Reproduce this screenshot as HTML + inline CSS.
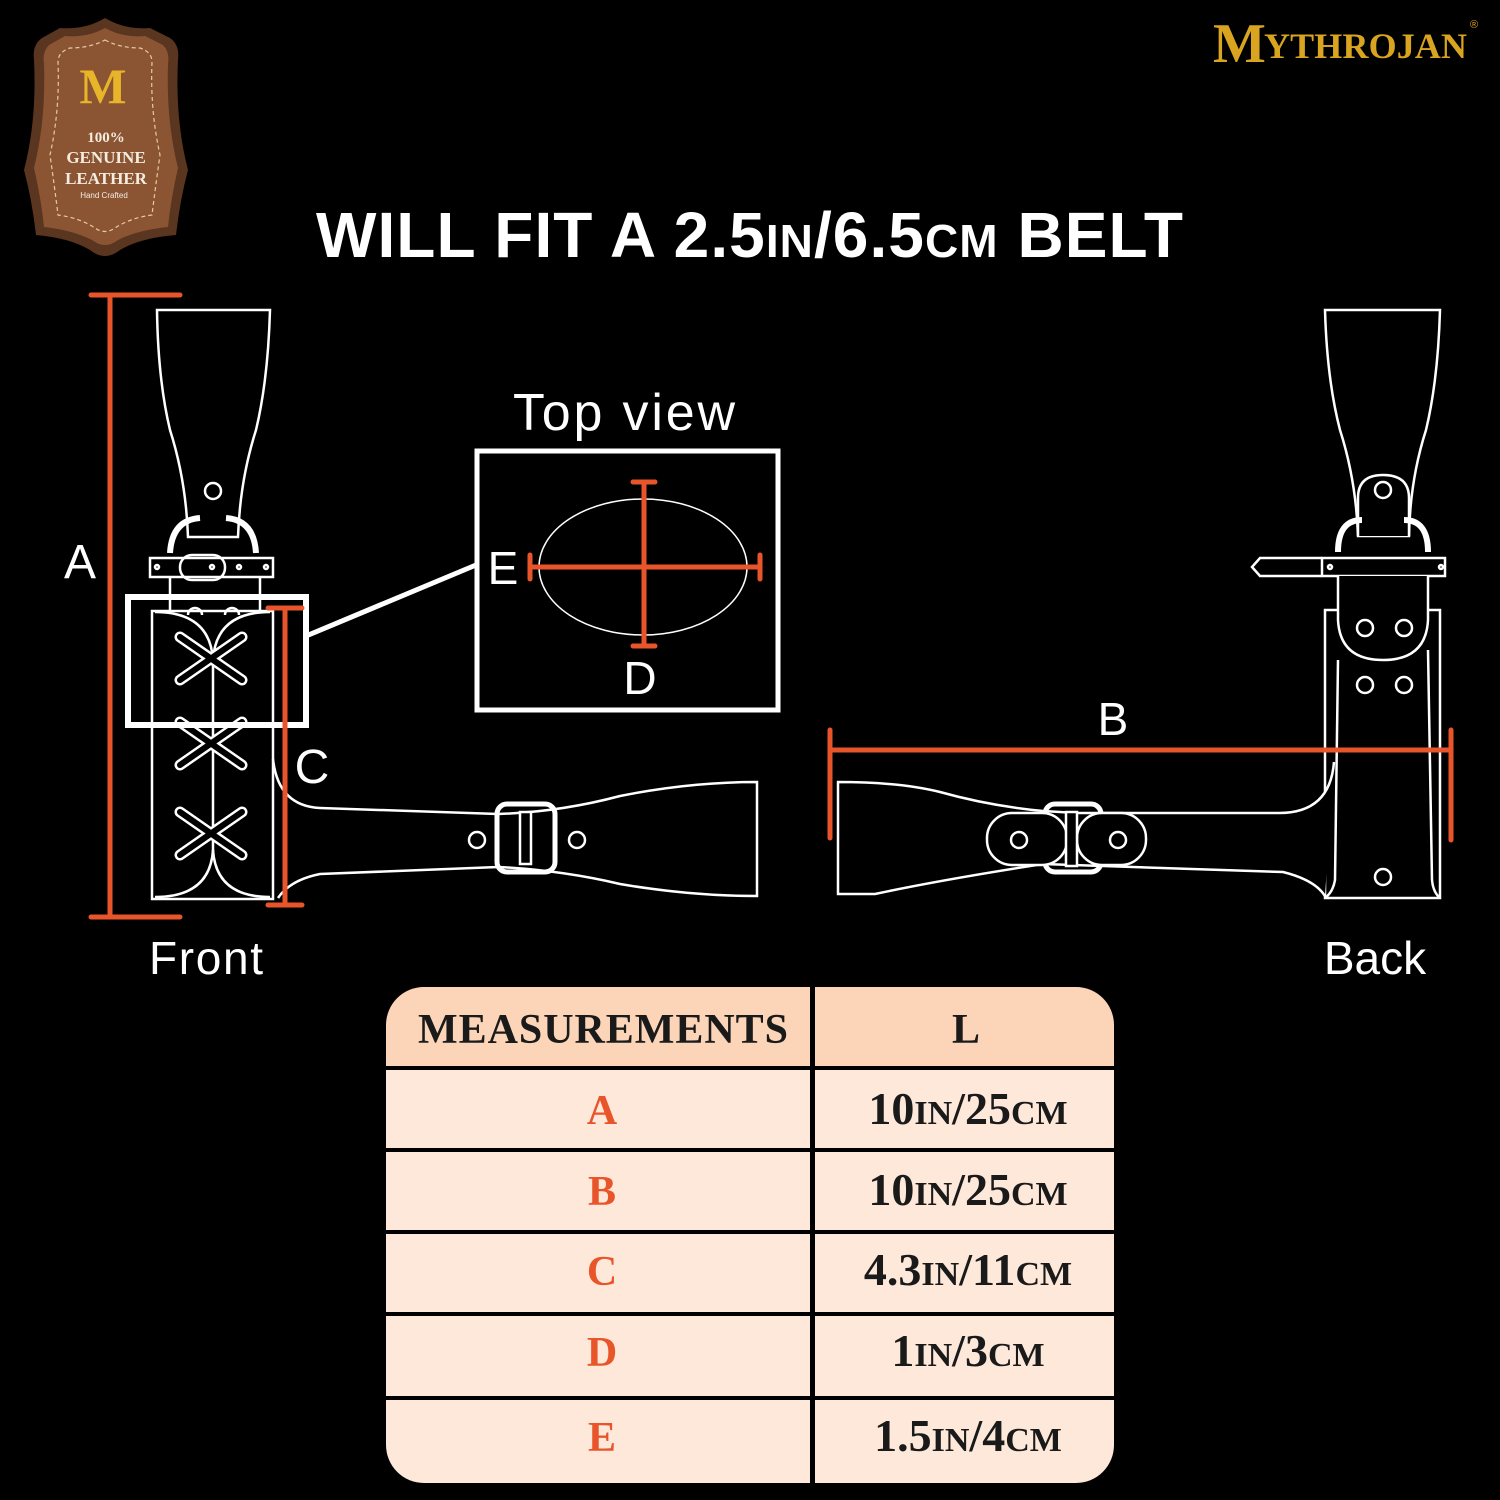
<!DOCTYPE html>
<html><head><meta charset="utf-8"><style>
html,body{margin:0;padding:0;background:#000;}
svg{display:block}
</style></head><body>
<svg width="1500" height="1500" viewBox="0 0 1500 1500" xmlns="http://www.w3.org/2000/svg">
<rect width="1500" height="1500" fill="#000"/>

<!-- Badge -->
<path d="M105,18 Q125,30 150,28 L170,38 Q180,45 178,60 Q175,120 188,170 Q180,200 176,235 Q140,238 120,250 Q105,262 90,250 Q70,238 36,235 Q32,200 24,170 Q37,120 34,60 Q32,45 42,38 L60,28 Q85,30 105,18Z" fill="#5a3520"/>
<path d="M105,28 Q123,38 145,36 L163,45 Q170,52 168,64 Q166,120 178,168 Q171,198 168,227 Q138,230 118,240 Q105,250 92,240 Q72,230 44,227 Q41,198 34,168 Q46,120 44,64 Q42,52 49,45 L65,36 Q87,38 105,28Z" fill="#8b5533"/>
<path d="M105,40 Q120,48 140,48 Q152,52 152,62 Q150,110 160,155 Q155,190 152,215 Q130,218 115,228 Q105,235 95,228 Q80,218 58,215 Q55,190 50,155 Q60,110 58,62 Q58,52 70,48 Q90,48 105,40Z" fill="none" stroke="#e8c9a6" stroke-width="1.2" stroke-dasharray="4,3"/>
<text x="103" y="103" font-family="Liberation Serif,serif" font-size="50" font-weight="bold" fill="#e8b52a" text-anchor="middle">M</text>
<text x="106" y="142" font-family="Liberation Serif,serif" font-size="15" font-weight="bold" fill="#f5ece0" text-anchor="middle">100%</text>
<text x="106" y="163" font-family="Liberation Serif,serif" font-size="17" font-weight="bold" fill="#f5ece0" text-anchor="middle">GENUINE</text>
<text x="106" y="184" font-family="Liberation Serif,serif" font-size="17" font-weight="bold" fill="#f5ece0" text-anchor="middle">LEATHER</text>
<text x="104" y="198" font-family="Liberation Sans,sans-serif" font-size="8" fill="#f5ece0" text-anchor="middle">Hand Crafted</text>

<!-- Logo -->
<text x="1213" y="62" font-family="Liberation Serif,serif" font-size="56" font-weight="bold" fill="#d9a520">M</text>
<text x="1264" y="58" font-family="Liberation Serif,serif" font-size="36" font-weight="bold" fill="#d9a520" textLength="203">YTHROJAN</text>
<text x="1470" y="28" font-family="Liberation Sans,sans-serif" font-size="11" fill="#d9a520">®</text>

<!-- Title -->
<text x="316" y="257" font-family="Liberation Sans,sans-serif" font-size="64" font-weight="bold" fill="#fff" textLength="867">WILL FIT A 2.5<tspan font-size="46">IN</tspan>/6.5<tspan font-size="46">CM</tspan> BELT</text>

<g fill="none" stroke="#fff" stroke-width="2.5">
<!-- FRONT -->
<path d="M157,310 L270,310 Q268,380 256,430 Q240,480 238,537 L188,537 Q186,480 170,430 Q158,380 157,310Z"/>
<circle cx="213" cy="491" r="8"/>
<path d="M170,553 Q172,520 200,518" stroke-width="6"/>
<path d="M256,553 Q254,520 226,518" stroke-width="6"/>
<rect x="150" y="558" width="123" height="19"/>
<rect x="180" y="555" width="45" height="25" rx="12"/>
<circle cx="157" cy="567" r="2"/><circle cx="212" cy="567" r="2"/><circle cx="239" cy="567" r="2"/><circle cx="266" cy="567" r="2"/>
<line x1="170" y1="577" x2="170" y2="611"/><line x1="260" y1="577" x2="260" y2="611"/>
<rect x="152" y="611" width="121" height="288"/>
<line x1="213" y1="650" x2="213" y2="860"/>
<path d="M155,612 Q210,612 213,660"/><path d="M270,612 Q216,612 213,660"/>
<path d="M155,897 Q210,897 213,850"/><path d="M270,897 Q216,897 213,850"/>
<path d="M188,615 a7,7 0 0 1 14,0"/><path d="M225,615 a7,7 0 0 1 14,0"/>
<!-- strap right -->
<path d="M273,759 Q278,806 320,808 L498,814 Q560,812 620,796 Q690,782 757,782 L757,896 Q690,896 620,884 Q560,870 498,867 L320,874 Q290,880 278,898"/>
<rect x="497" y="804" width="58" height="68" rx="10" stroke-width="5"/>
<rect x="520" y="812" width="11" height="52" fill="#000"/>
<circle cx="477" cy="840" r="8"/><circle cx="577" cy="840" r="8"/>

<!-- BACK -->
<path d="M1325,310 L1440,310 Q1438,380 1426,430 Q1410,480 1409,536 L1358,536 Q1356,480 1340,430 Q1327,380 1325,310Z"/>
<path d="M1358,536 L1358,498 Q1358,475 1383,475 Q1409,475 1409,498 L1409,536" fill="#000"/>
<circle cx="1383" cy="490" r="8"/>
<path d="M1338,552 Q1338,520 1362,520" stroke-width="6"/>
<path d="M1428,552 Q1428,520 1404,520" stroke-width="6"/>
<rect x="1322" y="558" width="123" height="18"/>
<path d="M1322,558 L1260,558 L1252,567 L1260,576 L1322,576"/>
<circle cx="1330" cy="567" r="2"/><circle cx="1441" cy="567" r="2"/>
<rect x="1325" y="610" width="115" height="288"/>
<path d="M1338,576 L1338,620 Q1340,660 1383,660 Q1426,660 1428,620 L1428,576" fill="#000"/>
<path d="M1338,660 L1335,880 Q1333,892 1325,898"/>
<path d="M1428,650 L1432,880 Q1433,892 1440,898"/>
<circle cx="1365" cy="628" r="8"/><circle cx="1404" cy="628" r="8"/>
<circle cx="1365" cy="685" r="8"/><circle cx="1404" cy="685" r="8"/>
<circle cx="1383" cy="877" r="8"/>
<path d="M1334,762 Q1330,813 1279,813 L1077,813 L1043,811 Q990,806 940,792 Q900,782 838,782 L838,894 L875,894 Q940,880 1043,864 L1283,872 Q1315,880 1325,896" fill="#000"/>
<rect x="1045" y="804" width="56" height="68" rx="10" stroke-width="5"/>
<rect x="987" y="813" width="80" height="52" rx="25" fill="#000"/>
<rect x="1077" y="813" width="69" height="52" rx="25" fill="#000"/>
<rect x="1066" y="812" width="11" height="54" fill="#000"/>
<circle cx="1019" cy="840" r="8"/><circle cx="1118" cy="840" r="8"/>
</g>
<!-- Front X lacing -->
<g stroke-linecap="round">
<g stroke="#fff" stroke-width="11"><path d="M180,680 L242,637 M180,637 L242,680 M180,765 L242,722 M180,722 L242,765 M180,855 L242,812 M180,812 L242,855"/></g>
<g stroke="#000" stroke-width="6"><path d="M180,680 L242,637 M180,637 L242,680 M180,765 L242,722 M180,722 L242,765 M180,855 L242,812 M180,812 L242,855"/></g>
</g>

<!-- highlight box and top view -->
<g fill="none" stroke="#fff" stroke-width="6">
<rect x="128" y="597" width="178" height="128"/>
<line x1="306" y1="636" x2="476" y2="565" stroke-width="5"/>
<rect x="477" y="451" width="301" height="259" stroke-width="5"/>
</g>
<ellipse cx="643" cy="567" rx="104" ry="68" fill="none" stroke="#fff" stroke-width="1.5"/>

<!-- orange dims -->
<g stroke="#e8552a" stroke-width="5" stroke-linecap="round" fill="none">
<line x1="110" y1="295" x2="110" y2="917"/>
<line x1="91" y1="295" x2="180" y2="295"/><line x1="91" y1="917" x2="180" y2="917"/>
<line x1="285" y1="610" x2="285" y2="904"/>
<line x1="268" y1="608" x2="302" y2="608"/><line x1="268" y1="905" x2="302" y2="905"/>
<line x1="531" y1="567" x2="760" y2="567"/>
<line x1="530" y1="555" x2="530" y2="579"/><line x1="760" y1="555" x2="760" y2="579"/>
<line x1="644" y1="482" x2="644" y2="645"/>
<line x1="633" y1="482" x2="655" y2="482"/><line x1="633" y1="646" x2="655" y2="646"/>
<line x1="830" y1="750" x2="1450" y2="750"/>
<line x1="830" y1="730" x2="830" y2="838"/><line x1="1451" y1="730" x2="1451" y2="840"/>
</g>

<g font-family="Liberation Sans,sans-serif" fill="#fff">
<text x="80" y="578" font-size="48" text-anchor="middle">A</text>
<text x="312" y="783" font-size="48" text-anchor="middle">C</text>
<text x="503" y="584" font-size="46" text-anchor="middle">E</text>
<text x="640" y="694" font-size="46" text-anchor="middle">D</text>
<text x="1113" y="735" font-size="46" text-anchor="middle">B</text>
<text x="624" y="430" font-size="52" text-anchor="middle" textLength="222">Top view</text>
<text x="206" y="974" font-size="46" text-anchor="middle" textLength="114">Front</text>
<text x="1375" y="974" font-size="46" text-anchor="middle">Back</text>
</g>

<!-- Table -->
<clipPath id="tc"><rect x="386" y="987" width="728" height="496" rx="38"/></clipPath>
<g clip-path="url(#tc)">
<rect x="386" y="987" width="728" height="496" fill="#000"/>
<rect x="386" y="987" width="424" height="79" fill="#fcd5b9"/>
<rect x="815" y="987" width="299" height="79" fill="#fcd5b9"/>
<g fill="#fde8da">
<rect x="386" y="1070" width="424" height="78"/><rect x="815" y="1070" width="299" height="78"/>
<rect x="386" y="1152" width="424" height="78"/><rect x="815" y="1152" width="299" height="78"/>
<rect x="386" y="1234" width="424" height="78"/><rect x="815" y="1234" width="299" height="78"/>
<rect x="386" y="1316" width="424" height="80"/><rect x="815" y="1316" width="299" height="80"/>
<rect x="386" y="1400" width="424" height="83"/><rect x="815" y="1400" width="299" height="83"/>
</g>
</g>
<g font-family="Liberation Serif,serif" text-anchor="middle">
<text x="603" y="1043" font-size="42" font-weight="bold" fill="#1a1a1a" textLength="370">MEASUREMENTS</text>
<text x="966" y="1043" font-size="42" font-weight="bold" fill="#1a1a1a">L</text>
<g fill="#e8552a" font-size="42" font-weight="bold">
<text x="602" y="1124">A</text><text x="602" y="1205">B</text><text x="602" y="1285">C</text><text x="602" y="1366">D</text><text x="602" y="1451">E</text>
</g>
<g fill="#1a1a1a" font-size="46" font-weight="bold">
<text x="968" y="1124">10<tspan font-size="34">IN</tspan>/25<tspan font-size="34">CM</tspan></text>
<text x="968" y="1205">10<tspan font-size="34">IN</tspan>/25<tspan font-size="34">CM</tspan></text>
<text x="968" y="1285">4.3<tspan font-size="34">IN</tspan>/11<tspan font-size="34">CM</tspan></text>
<text x="968" y="1366">1<tspan font-size="34">IN</tspan>/3<tspan font-size="34">CM</tspan></text>
<text x="968" y="1451">1.5<tspan font-size="34">IN</tspan>/4<tspan font-size="34">CM</tspan></text>
</g>
</g>
</svg>
</body></html>
